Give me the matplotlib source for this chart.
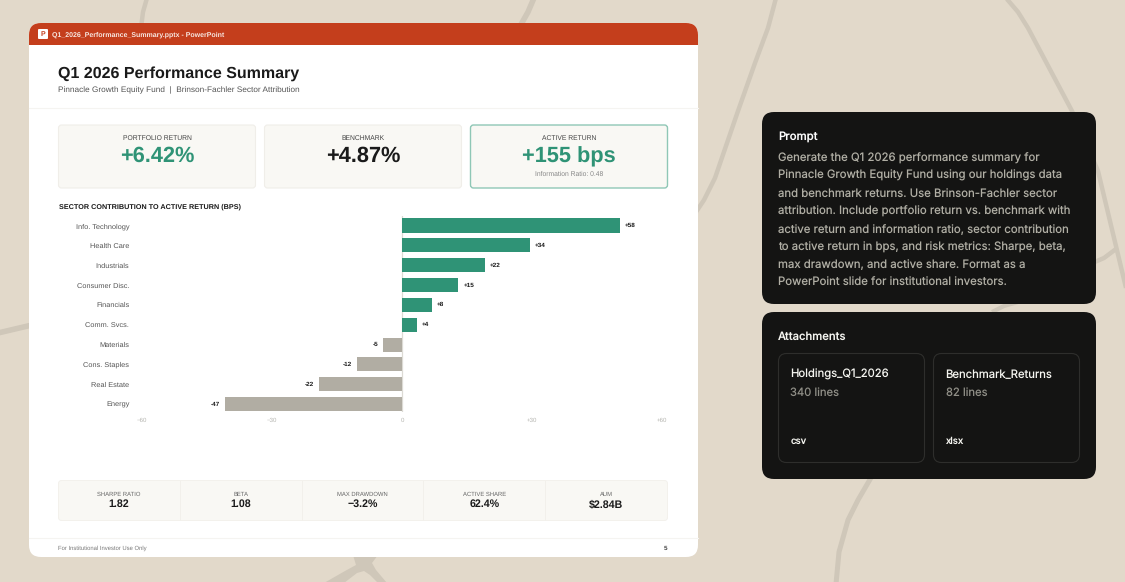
import matplotlib
matplotlib.use("Agg")
import matplotlib.pyplot as plt
from matplotlib.patches import FancyBboxPatch, Rectangle, PathPatch, Polygon
from matplotlib.path import Path

plt.rcParams["text.hinting"] = "none"

W, H = 1125, 582

sectors = ["Info. Technology", "Health Care", "Industrials", "Consumer Disc.", "Financials",
           "Comm. Svcs.", "Materials", "Cons. Staples", "Real Estate", "Energy"]
contrib = [58, 34, 22, 15, 8, 4, -5, -12, -22, -47]
tick_vals = [-60, -30, 0, 30, 60]
tick_labels = ["\u221260", "\u221230", "0", "+30", "+60"]

top_labels = ["PORTFOLIO RETURN", "BENCHMARK", "ACTIVE RETURN"]
top_values = ["+6.42%", "+4.87%", "+155 bps"]
risk_labels = ["SHARPE RATIO", "BETA", "MAX DRAWDOWN", "ACTIVE SHARE", "AUM"]
risk_values = ["1.82", "1.08", "\u22123.2%", "62.4%", "$2.84B"]

prompt_lines = [
    "Generate the Q1 2026 performance summary for",
    "Pinnacle Growth Equity Fund using our holdings data",
    "and benchmark returns. Use Brinson-Fachler sector",
    "attribution. Include portfolio return vs. benchmark with",
    "active return and information ratio, sector contribution",
    "to active return in bps, and risk metrics: Sharpe, beta,",
    "max drawdown, and active share. Format as a",
    "PowerPoint slide for institutional investors.",
]

BG = "#e2d9ca"
VEIN = "#cfc7b9"
GREEN = "#2f9376"
GREY = "#b1ada3"
INK = "#1a1a1a"
PANEL = "#f9f8f4"
SANS = "Liberation Sans"
UI = "Inter"

fig = plt.figure(figsize=(W / 100, H / 100), dpi=100, facecolor=BG)
bg = fig.add_axes([0, 0, 1, 1])
bg.set_xlim(0, W)
bg.set_ylim(H, 0)
bg.axis("off")


def box(x, y, w, h, r, fc, ec="none", lw=0, z=2):
    p = FancyBboxPatch((x + r, y + r), w - 2 * r, h - 2 * r, boxstyle=f"round,pad={r},rounding_size={r}",
                       fc=fc, ec=ec, lw=lw, zorder=z)
    bg.add_patch(p)
    return p


def label(x, y, s, size, color=INK, ha="center", weight="normal", family=SANS, z=5):
    return bg.text(x, y, s, fontsize=size, color=color, ha=ha, va="center", fontweight=weight,
                   family=family, zorder=z)


# background veins
def vein(pts, lw):
    codes = [Path.MOVETO] + [Path.LINETO] * (len(pts) - 1)
    bg.add_patch(PathPatch(Path(pts, codes), fc="none", ec=VEIN, lw=lw, zorder=1, joinstyle="round"))


vein([(147, -2), (143, 12), (141, 28)], 3.2)
vein([(534, -2), (528, 12), (519, 28)], 4)
vein([(776, -2), (768, 28), (755, 63), (738, 111), (715, 178), (704, 200), (692, 218)], 3.2)
vein([(1006, -2), (1018, 12), (1028, 28), (1072, 111), (1098, 171), (1115, 242), (1127, 292)], 3.2)
vein([(1090, 264), (1104, 258), (1116, 249)], 3.2)
vein([(992, 312), (1004, 306), (1018, 302)], 3)
vein([(872, 476), (858, 500), (848, 520), (839, 552), (836, 584)], 3.6)
vein([(-2, 333), (15, 329), (32, 325)], 4)
bg.add_patch(Polygon([(353, 555), (356, 565), (345, 571), (324, 583), (344, 583), (357, 573), (364, 571),
                      (370, 575), (378, 583), (387, 583), (376, 570), (372, 563), (378, 555)],
                     closed=True, fc=VEIN, ec="none", zorder=1))

# slide card
box(29, 23, 669, 534, 12, "white", z=2)
box(29, 23, 669, 40, 12, "#c43e1c", z=3)
bg.add_patch(Rectangle((29, 35), 669, 10, fc="#c43e1c", zorder=3))
bg.add_patch(Rectangle((29, 45), 669, 22, fc="white", zorder=3))
box(38, 29, 10, 10, 1, "white", z=4)
label(43, 34, "P", 5, "#c43e1c", weight="bold")
label(52, 34.5, "Q1_2026_Performance_Summary.pptx - PowerPoint", 5.0, "#f7e6e0", ha="left", weight="bold")

label(58.5, 73.5, "Q1 2026 Performance Summary", 11.55, "#1a1a1a", ha="left", weight="bold")
label(58.5, 90.5, "Pinnacle Growth Equity Fund  |  Brinson-Fachler Sector Attribution", 5.96, "#555555", ha="left")
bg.plot([29, 698], [107.5, 107.5], color="#f5f4f1", lw=0.8, zorder=3)

# top cards
card_x = [58, 264, 470]
for i, x in enumerate(card_x):
    if i == 2:
        box(x + 0.5, 125, 197, 63, 3, PANEL, ec="#8fc7b6", lw=1, z=3)
    else:
        box(x + 0.5, 125, 197, 63, 3, PANEL, ec="#f0eee9", lw=0.8, z=3)
    label(x + 99, 138.5, top_labels[i], 4.9, "#444444")
    label(x + 99, 156.5, top_values[i], 15.7, INK if i == 1 else GREEN, weight="bold")
label(569, 174, "Information Ratio: 0.48", 4.85, "#888888")

label(59, 206.5, "SECTOR CONTRIBUTION TO ACTIVE RETURN (BPS)", 5.25, "#1a1a1a", ha="left", weight="bold")

# bar chart, 3.76 px per bp
PX = 3.76
ax_l, ax_r, ax_t, ax_b = 130, 670, 216, 412
ax = fig.add_axes([ax_l / W, 1 - ax_b / H, (ax_r - ax_l) / W, (ax_b - ax_t) / H], facecolor="none", zorder=3)
ax.set_xlim((ax_l - 402) / PX, (ax_r - 402) / PX)
ax.set_ylim(9.4, -0.48)
ypos = list(range(len(sectors)))
colors = [GREEN if v > 0 else GREY for v in contrib]
ax.barh(ypos, contrib, height=0.71, color=colors)
ax.axvline(0, color="#dcdad4", lw=0.9, zorder=0)
for sp in ax.spines.values():
    sp.set_visible(False)
ax.set_yticks(ypos, sectors, fontsize=5.3, color="#555555", family=SANS)
ax.tick_params(axis="y", length=0, pad=0.5)
# the reference's axis labels are spaced wider than the bars' own scale
stretch = 4.33 / PX
ax.set_xticks([v * stretch for v in tick_vals], tick_labels, fontsize=4.4, color="#b5b5b0", family=SANS)
ax.tick_params(axis="x", length=0, pad=4.2)
for y, v in zip(ypos, contrib):
    txt = f"+{v}" if v > 0 else f"-{abs(v)}"
    ax.annotate(txt, (v, y), xytext=(3.7 if v > 0 else -3.7, 0), textcoords="offset points",
                ha="left" if v > 0 else "right", va="center", fontsize=4.6, color="#1a1a1a",
                fontweight="bold", family=SANS)

# risk strip
box(58.5, 480.5, 609, 40, 3, PANEL, ec="#f3f1ec", lw=0.7, z=3)
for i in range(5):
    cx = 119 + i * 121.8
    label(cx, 494, risk_labels[i], 4.25, "#666666")
    label(cx, 504, risk_values[i], 7.7, INK, weight="bold")
    if i:
        bg.plot([57.7 + i * 121.9] * 2, [481, 520], color="#f2f0eb", lw=0.7, zorder=4)

bg.plot([29, 698], [537.5, 537.5], color="#f5f4f1", lw=0.8, zorder=3)
label(58, 548, "For Institutional Investor Use Only", 4.2, "#777777", ha="left")
label(666, 548, "5", 4.6, "#444444", weight="bold")

# prompt panel
box(762, 112, 334, 192, 12, "#141413")
label(778, 136.5, "Prompt", 8.2, "#ffffff", ha="left", family=UI, weight="medium")
for i, line in enumerate(prompt_lines):
    label(778, 158 + i * 17.85, line, 8.2, "#b0aea4", ha="left", family=UI)

# attachments panel
box(762, 312, 334, 167, 12, "#141413")
label(778, 336.5, "Attachments", 8.1, "#f5f5f0", ha="left", family=UI, weight="medium")
att = [(778, "Holdings_Q1_2026", "340 lines", "csv"), (933, "Benchmark_Returns", "82 lines", "xlsx")]
for x, name, lines, ext in att:
    box(x + 0.5, 353.5, 146, 109, 8, "#141413", ec="#2e2e2c", lw=0.8, z=3)
    label(x + 12.5, 374.5, name, 8.15, "#f5f5f0", ha="left", family=UI)
    label(x + 12.5, 392.5, lines, 8.1, "#8f8e86", ha="left", family=UI)
    label(x + 12.5, 441.5, ext, 6.9, "#f5f5f0", ha="left", family=UI, weight="medium")

fig.savefig("out.png", dpi=100, facecolor=BG)
